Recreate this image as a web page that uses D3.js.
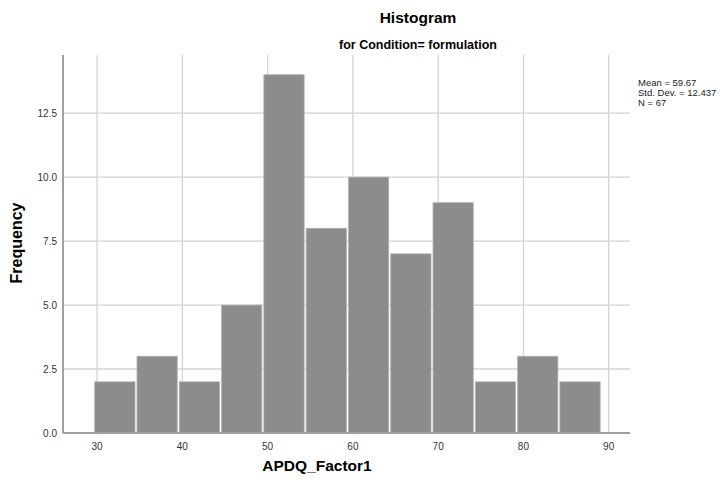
<!DOCTYPE html>
<html>
<head>
<meta charset="utf-8">
<script src="https://cdn.jsdelivr.net/npm/d3@7"></script>
<style>
  body { margin: 0; background: #fff; }
  text { font-family: Arial, "Liberation Sans", sans-serif; }
</style>
</head>
<body>
<div class="chart"></div>
<script>
// bin counts (12 bins)
const counts = [2, 3, 2, 5, 14, 8, 10, 7, 9, 2, 3, 2];
const binStart = 29.6;
const binWidth = 4.96;
const xTicks = [30, 40, 50, 60, 70, 80, 90];
const yTicks = [0, 2.5, 5, 7.5, 10, 12.5];
const statsLines = ['Mean = 59.67', 'Std. Dev. = 12.437', 'N = 67'];

const width = 728;
const height = 487;
const margin = { top: 55, right: 98, bottom: 54, left: 63 };

const bins = counts.map((c, i) => ({
    x0: binStart + i * binWidth,
    x1: binStart + (i + 1) * binWidth,
    count: c
}));

const xScale = d3.scaleLinear()
.domain([26, 92.5])
.range([margin.left, width - margin.right]);

const yScale = d3.scaleLinear()
.domain([0, 14.77])
.range([height - margin.bottom, margin.top]);

const svg = d3.select('.chart')
.append('svg')
.attr('width', width)
.attr('height', height);

// grid
svg.append('g')
.selectAll('line')
.data(yTicks.slice(1))
.enter()
.append('line')
.attr('x1', margin.left)
.attr('x2', width - margin.right)
.attr('y1', d => yScale(d))
.attr('y2', d => yScale(d))
.attr('stroke', '#d4d4d4')
.attr('stroke-width', 1.3);

svg.append('g')
.selectAll('line')
.data(xTicks)
.enter()
.append('line')
.attr('x1', d => xScale(d))
.attr('x2', d => xScale(d))
.attr('y1', margin.top)
.attr('y2', height - margin.bottom)
.attr('stroke', '#d4d4d4')
.attr('stroke-width', 1.3);

// bars
svg.append('g')
.selectAll('rect')
.data(bins)
.enter()
.append('rect')
.attr('x', d => xScale(d.x0) + 1)
.attr('width', d => xScale(d.x1) - xScale(d.x0) - 2)
.attr('y', d => yScale(d.count))
.attr('height', d => yScale(0) - yScale(d.count))
.attr('fill', '#8c8c8c')
.attr('stroke', '#b4b4b4')
.attr('stroke-width', 0.8);

// axes lines
svg.append('line')
.attr('x1', margin.left).attr('x2', margin.left)
.attr('y1', margin.top).attr('y2', height - margin.bottom)
.attr('stroke', '#a0a0a0').attr('stroke-width', 2);

svg.append('line')
.attr('x1', margin.left).attr('x2', width - margin.right)
.attr('y1', height - margin.bottom).attr('y2', height - margin.bottom)
.attr('stroke', '#a0a0a0').attr('stroke-width', 2);

// tick labels
svg.append('g')
.selectAll('text')
.data(yTicks)
.enter()
.append('text')
.attr('x', margin.left - 6)
.attr('y', d => yScale(d) + 3.5)
.attr('text-anchor', 'end')
.attr('font-size', 10)
.attr('fill', '#333')
.text(d => d.toFixed(1));

svg.append('g')
.selectAll('text')
.data(xTicks)
.enter()
.append('text')
.attr('x', d => xScale(d))
.attr('y', height - margin.bottom + 17)
.attr('text-anchor', 'middle')
.attr('font-size', 10)
.attr('fill', '#333')
.text(d => d);

// titles
svg.append('text')
.attr('x', 418).attr('y', 23)
.attr('text-anchor', 'middle')
.attr('font-size', 15.5).attr('font-weight', 'bold')
.text('Histogram');

svg.append('text')
.attr('x', 418).attr('y', 49)
.attr('text-anchor', 'middle')
.attr('font-size', 12.5).attr('font-weight', 'bold')
.text('for Condition= formulation');

svg.append('text')
.attr('x', 317).attr('y', 471)
.attr('text-anchor', 'middle')
.attr('font-size', 15.5).attr('font-weight', 'bold')
.text('APDQ_Factor1');

svg.append('text')
.attr('transform', 'translate(22,243) rotate(-90)')
.attr('text-anchor', 'middle')
.attr('font-size', 16).attr('font-weight', 'bold')
.text('Frequency');

// stats box
svg.append('g')
.selectAll('text')
.data(statsLines)
.enter()
.append('text')
.attr('x', 638)
.attr('y', (d, i) => 86 + i * 10)
.attr('font-size', 9.5)
.attr('fill', '#222')
.text(d => d);
</script>
</body>
</html>
